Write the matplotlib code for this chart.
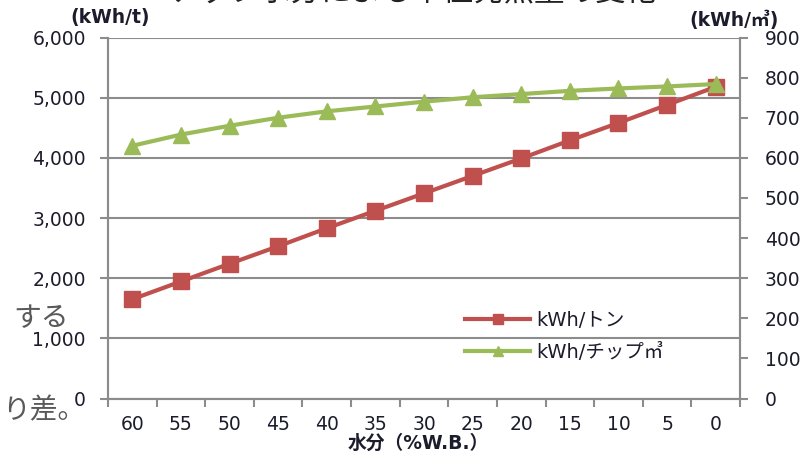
import matplotlib
matplotlib.use("Agg")
import matplotlib.pyplot as plt
import numpy as np

plt.rcParams['font.family'] = ['DejaVu Sans', 'Noto Sans CJK JP']

# moisture content (%W.B.) and heat output per unit
moisture = ["60", "55", "50", "45", "40", "35", "30", "25", "20", "15", "10", "5", "0"]
kwh_per_ton = [1650, 1945, 2240, 2530, 2830, 3120, 3410, 3700, 3990, 4290, 4580, 4880, 5180]
kwh_per_m3 = [630, 658, 680, 700, 716, 728, 740, 751, 759, 767, 773, 778, 784]

left_ticks = [0, 1000, 2000, 3000, 4000, 5000, 6000]
right_ticks = [0, 100, 200, 300, 400, 500, 600, 700, 800, 900]

red = '#C0504D'
green = '#9BBB59'
grid_col = '#8C8C8C'
txt_col = '#1C1C2C'
fs = 13.5

fig = plt.figure(figsize=(8.09, 4.53), dpi=100)
ax = fig.add_axes([0.1335, 0.1203, 0.7812, 0.7969])
ax2 = ax.twinx()

x = np.arange(len(moisture))
l1, = ax.plot(x, kwh_per_ton, color=red, lw=3, marker='s', ms=11,
              label='kWh/トン')
l2, = ax2.plot(x, kwh_per_m3, color=green, lw=3, marker='^', ms=12,
               label='kWh/チップ㎥')

ax.set_xlim(-0.5, len(moisture) - 0.5)
ax.set_ylim(0, 6000)
ax2.set_ylim(0, 900)

ax.set_yticks(left_ticks)
ax.set_yticklabels([f"{v:,}" for v in left_ticks])
ax2.set_yticks(right_ticks)
ax2.set_yticklabels([str(v) for v in right_ticks])

# category labels in the middle, tick marks between categories
ax.set_xticks(x)
ax.set_xticklabels(moisture)
ax.set_xticks(np.arange(-0.5, len(moisture)), minor=True)
ax.tick_params(axis='x', which='major', length=0, pad=12)
ax.tick_params(axis='x', which='minor', length=6, width=1.5, color=grid_col)

ax.tick_params(axis='y', length=6, width=1.5, color=grid_col, pad=10)
ax2.tick_params(axis='y', length=6, width=1.5, color=grid_col, pad=12)
for a in (ax, ax2):
    a.tick_params(labelsize=fs, labelcolor=txt_col)
    for s in a.spines.values():
        s.set_color(grid_col)
        s.set_linewidth(1.5)
    a.spines['top'].set_visible(False)

ax.yaxis.grid(True, color=grid_col, lw=1.5)
ax.set_axisbelow(True)

fig.text(0.136, 0.962, '(kWh/t)', ha='center', va='center',
         fontsize=fs, fontweight='bold', color=txt_col)
fig.text(0.907, 0.956, '(kWh/㎥)', ha='center', va='center',
         fontsize=fs, fontweight='bold', color=txt_col)
fig.text(0.517, 0.0, '水分（%W.B.）', ha='center', va='bottom',
         fontsize=13.5, fontweight='bold', color=txt_col)

# neighbouring slide text that runs into the frame
fig.text(0.51, 0.986, 'チップ水分による単位発熱量の変化', ha='center', va='bottom',
         fontsize=22, color='#222222')
fig.text(13 / 809, 1 - 318 / 453, 'する', ha='left', va='center',
         fontsize=20, color='#595959')
fig.text(2 / 809, 1 - 410 / 453, 'り差。', ha='left', va='center',
         fontsize=20, color='#595959')

leg = ax2.legend(handles=[l1, l2], loc='upper left',
                 bbox_to_anchor=(465 / 809, 1 - 311 / 453),
                 bbox_transform=fig.transFigure, frameon=False,
                 fontsize=14, handlelength=3.35, labelspacing=0.68,
                 handletextpad=0.3, markerscale=0.6,
                 borderpad=0, borderaxespad=0)
for t in leg.get_texts():
    t.set_color(txt_col)

fig.savefig('out.png', dpi=100)
